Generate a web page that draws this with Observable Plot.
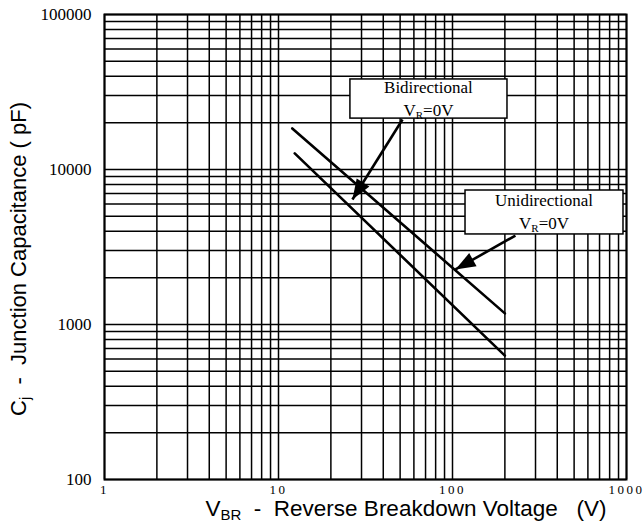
<!DOCTYPE html>
<html><head><meta charset="utf-8">
<script src="https://cdn.jsdelivr.net/npm/d3@7"></script>
<script src="https://cdn.jsdelivr.net/npm/@observablehq/plot@0.6"></script>
<style>body{margin:0;background:#fff} #chart svg{display:block}</style>
</head><body><div id="chart"></div>
<script>
// Axis ticks
const xTicks = [1, 10, 100, 1000];
const yTicks = [100, 1000, 10000, 100000];
const gridMultipliers = [1, 2, 3, 4, 5, 6, 7, 8, 9];

// Junction capacitance (pF) vs reverse breakdown voltage (V)
const unidirectional = [
  {v: 12, c: 18400},
  {v: 200, c: 1180}
];
const bidirectional = [
  {v: 12.4, c: 12700},
  {v: 200, c: 630}
];

// Annotation boxes (data coordinates) and their text
const boxNames = ["Bidirectional", "Unidirectional"];
const boxV1 = [25.9, 118.8];
const boxV2 = [207, 961];
const boxC1 = [38100, 7320];
const boxC2 = [21300, 3810];

// Annotation arrows (from box to curve)
const arrowFromV = [51.6, 230];
const arrowFromC = [21000, 3750];
const arrowToV = [26.6, 104];
const arrowToC = [6400, 2265];

const boxes = boxNames.map((name, i) => ({name, v1: boxV1[i], v2: boxV2[i], c1: boxC1[i], c2: boxC2[i]}));
const arrows = boxNames.map((name, i) => ({name, v1: arrowFromV[i], c1: arrowFromC[i], v2: arrowToV[i], c2: arrowToC[i]}));

const xGrid = xTicks.slice(0, -1).flatMap(d => gridMultipliers.map(k => k * d)).concat([xTicks[xTicks.length - 1]]);
const yGrid = yTicks.slice(0, -1).flatMap(d => gridMultipliers.map(k => k * d)).concat([yTicks[yTicks.length - 1]]);

const plot = Plot.plot({
  width: 643,
  height: 526,
  marginLeft: 104,
  marginRight: 17,
  marginTop: 14,
  marginBottom: 47,
  style: {background: "#fff", color: "#000"},
  x: {type: "log", domain: [1, 1000]},
  y: {type: "log", domain: [100, 100000]},
  marks: [
    Plot.ruleX(xGrid, {stroke: "#000", strokeWidth: 1.5}),
    Plot.ruleY(yGrid, {stroke: "#000", strokeWidth: 1.5}),
    Plot.frame({stroke: "#000", strokeWidth: 2}),
    Plot.axisX(xTicks, {tickSize: 0, tickPadding: 5, fontSize: 13, fontFamily: "Liberation Serif", tickFormat: d => String(d), label: null}),
    Plot.axisY(yTicks, {tickSize: 0, tickPadding: 13, fontSize: 17, fontFamily: "Liberation Serif", tickFormat: d => String(d), label: null}),
    Plot.line(unidirectional, {x: "v", y: "c", stroke: "#000", strokeWidth: 2.6}),
    Plot.line(bidirectional, {x: "v", y: "c", stroke: "#000", strokeWidth: 2.6}),
    Plot.rect(boxes, {x1: "v1", x2: "v2", y1: "c1", y2: "c2", fill: "#fff", stroke: "#000", strokeWidth: 1.5}),
    Plot.link(arrows, {x1: "v1", y1: "c1", x2: "v2", y2: "c2", stroke: "#000", strokeWidth: 2.6, markerEnd: "arrow"})
  ]
});

const svg = d3.select(plot);
// filled arrowheads
svg.selectAll("marker")
  .attr("markerUnits", "userSpaceOnUse")
  .attr("viewBox", "-21 -9 22 18")
  .attr("markerWidth", 22)
  .attr("markerHeight", 18)
  .attr("fill", "#000")
  .attr("stroke", "none")
  .selectAll("path").attr("d", "M-20,-7.5L0,0L-20,7.5Z");

svg.selectAll('g[aria-label="x-axis tick label"] text').attr("letter-spacing", "2.5");

const sx = plot.scale("x"), sy = plot.scale("y");
// box text
const serif = "'Liberation Serif', 'Times New Roman', serif";
boxes.forEach(b => {
  const cx = (sx.apply(b.v1) + sx.apply(b.v2)) / 2;
  const mid = (sy.apply(b.c1) + sy.apply(b.c2)) / 2;
  svg.append("text").attr("x", cx).attr("y", mid - 6).attr("text-anchor", "middle")
    .attr("font-family", serif).attr("font-size", 17).text(b.name);
  const t = svg.append("text").attr("x", cx).attr("y", mid + 17).attr("text-anchor", "middle")
    .attr("font-family", serif).attr("font-size", 17);
  t.append("tspan").text("V");
  t.append("tspan").attr("font-size", 11).attr("dy", 3).text("R");
  t.append("tspan").attr("dy", -3).text("=0V");
});

// axis titles
const sans = "'Liberation Sans', Arial, sans-serif";
const xl = svg.append("text").attr("x", 406).attr("y", 516).attr("text-anchor", "middle")
  .attr("font-family", sans).attr("font-size", 22.5).attr("xml:space", "preserve");
xl.append("tspan").text("V");
xl.append("tspan").attr("font-size", 15).attr("dy", 4).text("BR");
xl.append("tspan").attr("dy", -4).text("  -  Reverse Breakdown Voltage   (V)");

const yl = svg.append("text").attr("transform", "translate(26,259) rotate(-90)").attr("text-anchor", "middle")
  .attr("font-family", sans).attr("font-size", 22).attr("xml:space", "preserve");
yl.append("tspan").text("C");
yl.append("tspan").attr("font-size", 15).attr("dy", 4).text("j");
yl.append("tspan").attr("dy", -4).text("  -  Junction Capacitance ( pF)");

document.getElementById("chart").appendChild(plot);
</script>
</body></html>
